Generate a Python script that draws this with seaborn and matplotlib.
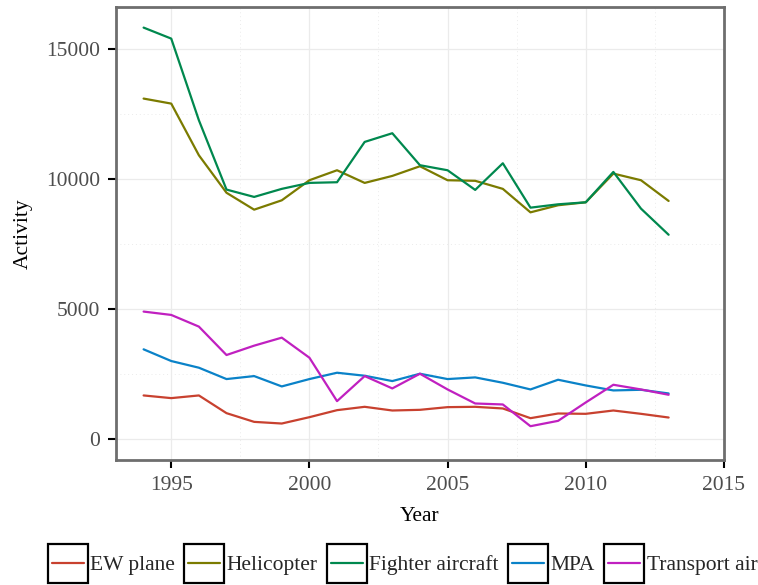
import numpy as np
import pandas as pd
import matplotlib
matplotlib.use("Agg")
import matplotlib.pyplot as plt
import seaborn as sns
from matplotlib.legend_handler import HandlerBase
from matplotlib.patches import Rectangle
from matplotlib.lines import Line2D
from matplotlib.ticker import MultipleLocator

years = list(range(1994, 2014))
ew_plane = [1684, 1581, 1684, 1003, 668, 604, 848, 1118, 1247, 1105,
            1131, 1234, 1247, 1183, 810, 990, 977, 1105, 977, 835]
helicopter = [13103, 12910, 10923, 9480, 8830, 9190, 9962, 10346, 9859, 10128,
              10500, 9962, 9940, 9630, 8727, 9000, 9113, 10218, 9962, 9165]
fighter = [15833, 15410, 12270, 9603, 9320, 9630, 9860, 9885, 11436, 11770,
           10540, 10346, 9590, 10615, 8907, 9036, 9113, 10282, 8870, 7865]
mpa = [3458, 3008, 2751, 2314, 2429, 2031, 2314, 2558, 2442, 2237,
       2519, 2314, 2378, 2172, 1915, 2288, 2069, 1877, 1902, 1761]
transport = [4910, 4781, 4332, 3239, 3599, 3907, 3136, 1465, 2429, 1954,
             2519, 1915, 1375, 1337, 501, 707, 1414, 2095, 1915, 1710]

series_names = ["EW plane", "Helicopter", "Fighter aircraft", "MPA", "Transport air"]
colors = ["#c8412f", "#7b7b00", "#00884e", "#0a82c8", "#c020c0"]

df = pd.concat([
    pd.DataFrame({"Year": years, "Activity": vals, "Type": name})
    for name, vals in zip(series_names,
                          [ew_plane, helicopter, fighter, mpa, transport])
])

FS = 15.5
sns.set_theme(style="white")
plt.rcParams["font.family"] = ["Liberation Serif", "DejaVu Serif"]
plt.rcParams["font.size"] = FS

fig = plt.figure(figsize=(7.58, 5.85), dpi=100)
ax = fig.add_axes([0.153, 0.214, 0.802, 0.774])

sns.lineplot(data=df, x="Year", y="Activity", hue="Type",
             hue_order=series_names, palette=colors, linewidth=1.6,
             ax=ax, legend=False)

ymax = max(max(fighter), max(helicopter))
ax.set_ylim(-0.05 * ymax, 1.05 * ymax)
ax.set_xlim(1993, 2015)
ax.xaxis.set_major_locator(MultipleLocator(5))
ax.xaxis.set_minor_locator(MultipleLocator(2.5))
ax.yaxis.set_major_locator(MultipleLocator(5000))
ax.yaxis.set_minor_locator(MultipleLocator(2500))

ax.grid(which="major", color="#ebebeb", linewidth=0.9, linestyle="-")
ax.grid(which="minor", color="#ebebeb", linewidth=0.7, linestyle=(0, (1, 3)))
ax.set_axisbelow(True)

for s in ax.spines.values():
    s.set_color("#6e6e6e")
    s.set_linewidth(2.0)
    s.set_visible(True)

ax.tick_params(axis="both", which="major", direction="out", length=5.8,
               width=1.5, color="black", labelcolor="#4d4d4d",
               labelsize=FS, pad=5.5, bottom=True, left=True)
ax.tick_params(axis="both", which="minor", length=0)

ax.set_xlabel("Year", fontsize=FS, color="black", labelpad=9)
ax.set_ylabel("Activity", fontsize=FS, color="black", labelpad=9.5)


class BoxLine(HandlerBase):
    def create_artists(self, legend, orig_handle, xdescent, ydescent,
                       width, height, fontsize, trans):
        r = Rectangle((-xdescent, -ydescent), width, height, fill=False,
                      edgecolor="black", linewidth=1.6, transform=trans)
        y = -ydescent + height / 2
        ln = Line2D([-xdescent + width * 0.1, -xdescent + width * 0.9], [y, y],
                    color=orig_handle.get_color(), linewidth=1.6,
                    transform=trans)
        return [r, ln]


handles = [Line2D([], [], color=c) for c in colors]
fig.legend(handles, series_names, loc="center",
           bbox_to_anchor=(0.531, 0.037), ncol=5, frameon=False,
           handler_map={Line2D: BoxLine()}, fontsize=FS,
           handlelength=1.86, handleheight=2.45, handletextpad=0.12,
           columnspacing=0.42, borderpad=0, borderaxespad=0)

fig.savefig("out.png", dpi=100)
